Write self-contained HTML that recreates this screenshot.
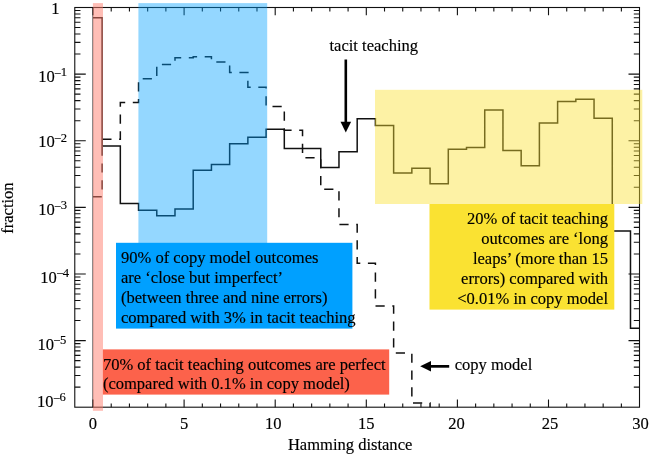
<!DOCTYPE html>
<html lang="en"><head><meta charset="utf-8"><title>Hamming distance histogram</title>
<style>html,body{margin:0;padding:0;background:#fff}svg{display:block}</style></head>
<body>
<svg width="649" height="454" viewBox="0 0 649 454">
<rect width="649" height="454" fill="#fff"/>
<g stroke="#111" stroke-width="1.1" fill="none">
<rect x="74.78" y="7.5" width="564.72" height="399.7"/>
<path d="M93 407.2 v-7.8 M93 7.5 v7.8 M111.22 407.2 v-3.6 M111.22 7.5 v4.1 M129.44 407.2 v-3.6 M129.44 7.5 v4.1 M147.66 407.2 v-3.6 M147.66 7.5 v4.1 M165.88 407.2 v-3.6 M165.88 7.5 v4.1 M184.1 407.2 v-7.8 M184.1 7.5 v7.8 M202.32 407.2 v-3.6 M202.32 7.5 v4.1 M220.54 407.2 v-3.6 M220.54 7.5 v4.1 M238.76 407.2 v-3.6 M238.76 7.5 v4.1 M256.98 407.2 v-3.6 M256.98 7.5 v4.1 M275.2 407.2 v-7.8 M275.2 7.5 v7.8 M293.42 407.2 v-3.6 M293.42 7.5 v4.1 M311.64 407.2 v-3.6 M311.64 7.5 v4.1 M329.86 407.2 v-3.6 M329.86 7.5 v4.1 M348.08 407.2 v-3.6 M348.08 7.5 v4.1 M366.3 407.2 v-7.8 M366.3 7.5 v7.8 M384.52 407.2 v-3.6 M384.52 7.5 v4.1 M402.74 407.2 v-3.6 M402.74 7.5 v4.1 M420.96 407.2 v-3.6 M420.96 7.5 v4.1 M439.18 407.2 v-3.6 M439.18 7.5 v4.1 M457.4 407.2 v-7.8 M457.4 7.5 v7.8 M475.62 407.2 v-3.6 M475.62 7.5 v4.1 M493.84 407.2 v-3.6 M493.84 7.5 v4.1 M512.06 407.2 v-3.6 M512.06 7.5 v4.1 M530.28 407.2 v-3.6 M530.28 7.5 v4.1 M548.5 407.2 v-7.8 M548.5 7.5 v7.8 M566.72 407.2 v-3.6 M566.72 7.5 v4.1 M584.94 407.2 v-3.6 M584.94 7.5 v4.1 M603.16 407.2 v-3.6 M603.16 7.5 v4.1 M621.38 407.2 v-3.6 M621.38 7.5 v4.1 M74.78 74.12 h11 M639.5 74.12 h-11 M74.78 54.07 h5.7 M639.5 54.07 h-5.7 M74.78 42.33 h5.7 M639.5 42.33 h-5.7 M74.78 34.01 h5.7 M639.5 34.01 h-5.7 M74.78 27.55 h5.7 M639.5 27.55 h-5.7 M74.78 22.28 h5.7 M639.5 22.28 h-5.7 M74.78 17.82 h5.7 M639.5 17.82 h-5.7 M74.78 13.96 h5.7 M639.5 13.96 h-5.7 M74.78 10.55 h5.7 M639.5 10.55 h-5.7 M74.78 140.74 h11 M639.5 140.74 h-11 M74.78 120.69 h5.7 M639.5 120.69 h-5.7 M74.78 108.95 h5.7 M639.5 108.95 h-5.7 M74.78 100.63 h5.7 M639.5 100.63 h-5.7 M74.78 94.17 h5.7 M639.5 94.17 h-5.7 M74.78 88.9 h5.7 M639.5 88.9 h-5.7 M74.78 84.44 h5.7 M639.5 84.44 h-5.7 M74.78 80.58 h5.7 M639.5 80.58 h-5.7 M74.78 77.17 h5.7 M639.5 77.17 h-5.7 M74.78 207.36 h11 M639.5 207.36 h-11 M74.78 187.31 h5.7 M639.5 187.31 h-5.7 M74.78 175.57 h5.7 M639.5 175.57 h-5.7 M74.78 167.25 h5.7 M639.5 167.25 h-5.7 M74.78 160.79 h5.7 M639.5 160.79 h-5.7 M74.78 155.52 h5.7 M639.5 155.52 h-5.7 M74.78 151.06 h5.7 M639.5 151.06 h-5.7 M74.78 147.2 h5.7 M639.5 147.2 h-5.7 M74.78 143.79 h5.7 M639.5 143.79 h-5.7 M74.78 273.98 h11 M639.5 273.98 h-11 M74.78 253.93 h5.7 M639.5 253.93 h-5.7 M74.78 242.19 h5.7 M639.5 242.19 h-5.7 M74.78 233.87 h5.7 M639.5 233.87 h-5.7 M74.78 227.41 h5.7 M639.5 227.41 h-5.7 M74.78 222.14 h5.7 M639.5 222.14 h-5.7 M74.78 217.68 h5.7 M639.5 217.68 h-5.7 M74.78 213.82 h5.7 M639.5 213.82 h-5.7 M74.78 210.41 h5.7 M639.5 210.41 h-5.7 M74.78 340.6 h11 M639.5 340.6 h-11 M74.78 320.55 h5.7 M639.5 320.55 h-5.7 M74.78 308.81 h5.7 M639.5 308.81 h-5.7 M74.78 300.49 h5.7 M639.5 300.49 h-5.7 M74.78 294.03 h5.7 M639.5 294.03 h-5.7 M74.78 288.76 h5.7 M639.5 288.76 h-5.7 M74.78 284.3 h5.7 M639.5 284.3 h-5.7 M74.78 280.44 h5.7 M639.5 280.44 h-5.7 M74.78 277.03 h5.7 M639.5 277.03 h-5.7 M74.78 387.17 h5.7 M639.5 387.17 h-5.7 M74.78 375.43 h5.7 M639.5 375.43 h-5.7 M74.78 367.11 h5.7 M639.5 367.11 h-5.7 M74.78 360.65 h5.7 M639.5 360.65 h-5.7 M74.78 355.38 h5.7 M639.5 355.38 h-5.7 M74.78 350.92 h5.7 M639.5 350.92 h-5.7 M74.78 347.06 h5.7 M639.5 347.06 h-5.7 M74.78 343.65 h5.7 M639.5 343.65 h-5.7"/>
</g>
<path d="M92.8 7.5 V407.2" stroke="#111" stroke-width="0.7" fill="none"/>
<path d="M93 17.7 L102.11 17.7 L102.11 146.1 L120.33 146.1 L120.33 203.4 L138.55 203.4 L138.55 210.2 L156.77 210.2 L156.77 215.7 L174.99 215.7 L174.99 209 L193.21 209 L193.21 170.3 L211.43 170.3 L211.43 164.6 L229.65 164.6 L229.65 143.7 L247.87 143.7 L247.87 137.3 L266.09 137.3 L266.09 129.3 L284.31 129.3 L284.31 148.6 L302.53 148.6 L302.53 148.6 L320.75 148.6 L320.75 167.5 L338.97 167.5 L338.97 151.7 L357.19 151.7 L357.19 118.7 L375.41 118.7 L375.41 125.4 L393.63 125.4 L393.63 172.9 L411.85 172.9 L411.85 168.3 L430.07 168.3 L430.07 183.8 L448.29 183.8 L448.29 149.3 L466.51 149.3 L466.51 147.6 L484.73 147.6 L484.73 110 L502.95 110 L502.95 150.6 L521.17 150.6 L521.17 165.7 L539.39 165.7 L539.39 123 L557.61 123 L557.61 101.6 L575.83 101.6 L575.83 99.3 L594.05 99.3 L594.05 118.3 L612.27 118.3 L612.27 231 L630.49 231 L630.49 328.2 L639.5 328.2" stroke="#111" stroke-width="1.5" fill="none" stroke-linejoin="miter"/>
<path d="M93 196.7 L102.11 196.7 L102.11 139.2 L120.33 139.2 L120.33 102.5 L138.55 102.5 L138.55 78.8 L156.77 78.8 L156.77 64.4 L174.99 64.4 L174.99 57.7 L193.21 57.7 L193.21 56.8 L211.43 56.8 L211.43 62 L229.65 62 L229.65 72.5 L247.87 72.5 L247.87 87.2 L266.09 87.2 L266.09 106.6 L284.31 106.6 L284.31 130.3 L302.53 130.3 L302.53 157.7 L320.75 157.7 L320.75 189.3 L338.97 189.3 L338.97 224.5 L357.19 224.5 L357.19 263.2 L375.41 263.2 L375.41 306 L393.63 306 L393.63 352.9 L411.85 352.9 L411.85 402.9 L430.07 402.9 L430.07 407.2" stroke="#111" stroke-width="1.5" fill="none" stroke-dasharray="9.2 7.6" stroke-dashoffset="0.4"/>
<rect x="92.9" y="3.1" width="10.1" height="407.7" fill="#ff7d6e" fill-opacity="0.5"/>
<rect x="138.4" y="3.1" width="128.8" height="241" fill="#00a0ff" fill-opacity="0.42"/>
<rect x="375" y="89.8" width="267.3" height="114.2" fill="#fae232" fill-opacity="0.44"/>
<rect x="116" y="242.8" width="236.4" height="85.8" fill="#00a0ff"/>
<rect x="102.9" y="349.4" width="286.3" height="45.2" fill="#fc624b"/>
<rect x="429.5" y="204" width="184.8" height="105.6" fill="#fae232"/>
<g fill="#000" stroke="none">
<rect x="344.5" y="59.5" width="2.6" height="64"/>
<path d="M340.5 121.8 L351.1 121.8 L345.8 132.4 Z"/>
<rect x="430" y="365" width="19.2" height="2.7"/>
<path d="M431 361.1 L431 371.5 L420.2 366.3 Z"/>
</g>
<g font-family="'Liberation Serif', 'Times New Roman', serif" font-size="16.55" fill="#000" stroke="#000" stroke-width="0.15">
<text x="93" y="429.2" text-anchor="middle">0</text>
<text x="184.1" y="429.2" text-anchor="middle">5</text>
<text x="273.3" y="429.2" text-anchor="middle">10</text>
<text x="366.3" y="429.2" text-anchor="middle">15</text>
<text x="456.5" y="429.2" text-anchor="middle">20</text>
<text x="550" y="429.2" text-anchor="middle">25</text>
<text x="640.6" y="429.2" text-anchor="middle">30</text>
<text x="287.9" y="449.6">Hamming distance</text>
<text transform="translate(13.2 233.8) rotate(-90)">fraction</text>
<text x="51.2" y="13.8">1</text>
<text x="38.2" y="81.8">10<tspan dy="-4.1" dx="-0.7" font-size="12.6">−</tspan><tspan dy="-1.3" dx="-0.5" font-size="12.6">1</tspan></text>
<text x="38.2" y="146.9">10<tspan dy="-4.1" dx="-0.7" font-size="12.6">−</tspan><tspan dy="-1.3" dx="-0.5" font-size="12.6">2</tspan></text>
<text x="38.2" y="214.6">10<tspan dy="-4.1" dx="-0.7" font-size="12.6">−</tspan><tspan dy="-1.3" dx="-0.5" font-size="12.6">3</tspan></text>
<text x="40.3" y="282.5">10<tspan dy="-4.1" dx="-0.7" font-size="12.6">−</tspan><tspan dy="-1.3" dx="-0.5" font-size="12.6">4</tspan></text>
<text x="37.5" y="349.5">10<tspan dy="-4.1" dx="-0.7" font-size="12.6">−</tspan><tspan dy="-1.3" dx="-0.5" font-size="12.6">5</tspan></text>
<text x="37.1" y="406.65">10<tspan dy="-4.1" dx="-0.7" font-size="12.6">−</tspan><tspan dy="-1.3" dx="-0.5" font-size="12.6">6</tspan></text>
<text x="329.5" y="51.2">tacit teaching</text>
<text x="454.7" y="370.1">copy model</text>
<text x="121" y="262.8">90% of copy model outcomes</text>
<text x="121" y="282.7">are ‘close but imperfect’</text>
<text x="121" y="302.6">(between three and nine errors)</text>
<text x="121" y="322.5">compared with 3% in tacit teaching</text>
<text x="102.9" y="369.6">70% of tacit teaching outcomes are perfect</text>
<text x="102.9" y="389.4">(compared with 0.1% in copy model)</text>
<text x="608.0" y="223.5" text-anchor="end">20% of tacit teaching</text>
<text x="608.0" y="243.5" text-anchor="end">outcomes are ‘long</text>
<text x="608.0" y="263.5" text-anchor="end">leaps’ (more than 15</text>
<text x="608.0" y="283.5" text-anchor="end">errors) compared with</text>
<text x="608.0" y="303.5" text-anchor="end">&lt;0.01% in copy model</text>
</g>
</svg>
</body></html>
